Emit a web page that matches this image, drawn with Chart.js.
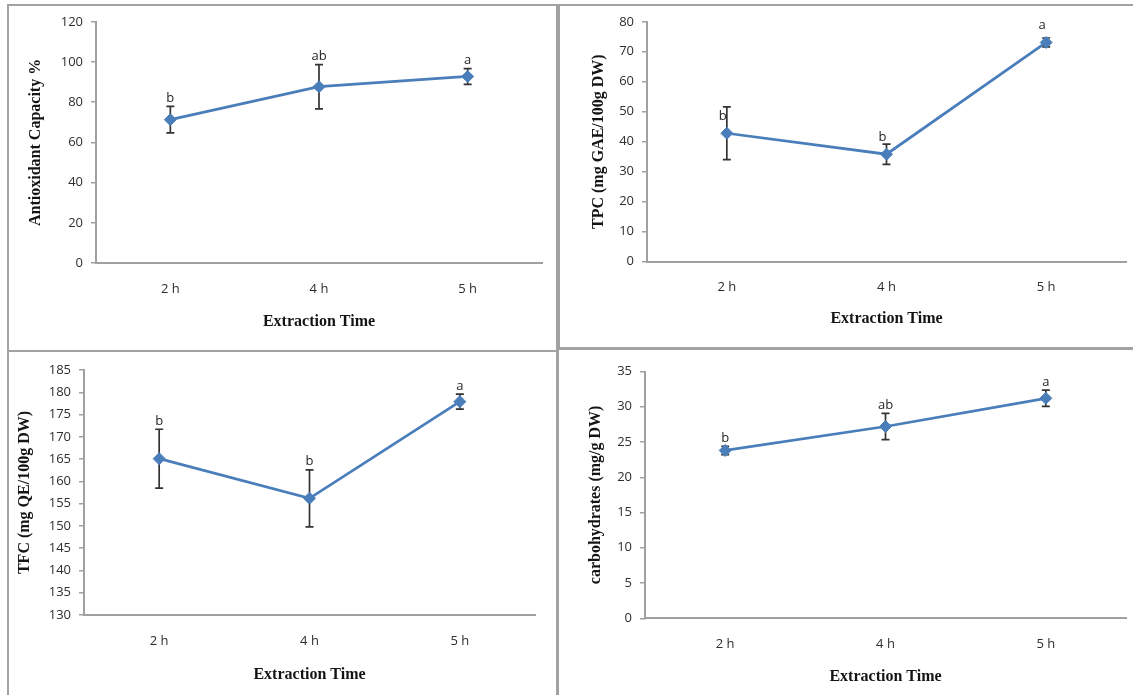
<!DOCTYPE html>
<html>
<head>
<meta charset="utf-8">
<script src="https://cdn.jsdelivr.net/npm/chart.js@4/dist/chart.umd.min.js"></script>
<style>
  html, body { margin: 0; padding: 0; background: #ffffff; }
  body { width: 1133px; height: 695px; position: relative; overflow: hidden; }
  .frame { position: absolute; border: 2px solid #a2a2a2; box-sizing: border-box; }
  canvas { position: absolute; }
</style>
</head>
<body>
<div class="frame" style="left:7px;top:4px;width:551px;height:348px;"></div>
<div class="frame" style="left:558px;top:4px;width:590px;height:345px;"></div>
<div class="frame" style="left:7px;top:350px;width:551px;height:360px;"></div>
<div class="frame" style="left:557px;top:348px;width:590px;height:360px;"></div>

<canvas id="cAntiox" width="546" height="343" style="left:9px;top:6px;"></canvas>
<canvas id="cTpc" width="573" height="341" style="left:560px;top:6px;"></canvas>
<canvas id="cTfc" width="546" height="344" style="left:9px;top:351px;"></canvas>
<canvas id="cCarb" width="574" height="346" style="left:559px;top:349px;"></canvas>

<script>
// Extraction times on the x axis
const timeLabels = ['2 h', '4 h', '5 h'];

// Antioxidant capacity (%)
const antioxMean = [71.3, 87.7, 92.8];
const antioxSd = [6.6, 11.0, 3.9];
const antioxLetters = ['b', 'ab', 'a'];

// Total phenolic content (mg GAE/100g DW)
const tpcMean = [42.8, 35.8, 73.1];
const tpcSd = [8.8, 3.4, 1.5];
const tpcLetters = ['b', 'b', 'a'];

// Total flavonoid content (mg QE/100g DW)
const tfcMean = [165.1, 156.2, 177.9];
const tfcSd = [6.6, 6.4, 1.7];
const tfcLetters = ['b', 'b', 'a'];

// Carbohydrates (mg/g DW)
const carbMean = [23.8, 27.2, 31.2];
const carbSd = [0.6, 1.85, 1.15];
const carbLetters = ['b', 'ab', 'a'];

// Y axis ranges [min, max, step]
const antioxRange = [0, 120, 20];
const tpcRange = [0, 80, 10];
const tfcRange = [130, 185, 5];
const carbRange = [0, 35, 5];

Chart.defaults.font.family = "'Open Sans', 'Liberation Sans', sans-serif";
Chart.defaults.color = '#2e2e2e';

const LINE_BLUE = '#4a7ebb';
const AXIS_GREY = '#a0a0a0';
const TICK_COLOR = '#2e2e2e';
const TITLE_FONT = { family: "'Liberation Serif', 'Times New Roman', serif", size: 16, weight: 'bold' };

// Vertical error bars with caps, drawn under the line markers
const errorBars = {
  id: 'errorBars',
  beforeDatasetsDraw(chart, args, opts) {
    const { ctx } = chart;
    const y = chart.scales.y;
    const meta = chart.getDatasetMeta(0);
    const ds = chart.data.datasets[0];
    ctx.save();
    ctx.strokeStyle = '#333333';
    ctx.lineWidth = 1.7;
    meta.data.forEach((pt, i) => {
      const m = ds.data[i], s = opts.sd[i];
      const yt = y.getPixelForValue(m + s);
      const yb = y.getPixelForValue(m - s);
      const x = pt.x;
      ctx.beginPath();
      ctx.moveTo(x, yt); ctx.lineTo(x, yb);
      ctx.moveTo(x - 4, yt); ctx.lineTo(x + 4, yt);
      ctx.moveTo(x - 4, yb); ctx.lineTo(x + 4, yb);
      ctx.stroke();
    });
    ctx.restore();
  }
};

// Significance letters above each time point
const letterLabels = {
  id: 'letterLabels',
  afterDatasetsDraw(chart, args, opts) {
    const { ctx } = chart;
    const y = chart.scales.y;
    const meta = chart.getDatasetMeta(0);
    const ds = chart.data.datasets[0];
    ctx.save();
    ctx.font = "13px 'Open Sans', sans-serif";
    ctx.fillStyle = '#262626';
    ctx.textAlign = 'center';
    ctx.textBaseline = 'middle';
    meta.data.forEach((pt, i) => {
      const m = ds.data[i];
      const ref = opts.fromPoint ? m : m + opts.sd[i];
      const py = y.getPixelForValue(ref) - opts.gap;
      ctx.fillText(opts.text[i], pt.x + opts.dx, py);
    });
    ctx.restore();
  }
};

function makePanel(id, p) {
  const canvas = document.getElementById(id);
  const boxX = parseFloat(canvas.style.left), boxY = parseFloat(canvas.style.top);
  const W = canvas.width, H = canvas.height;
  const half = TITLE_FONT.size * 1.2 / 2;
  return new Chart(canvas, {
    type: 'line',
    data: {
      labels: timeLabels,
      datasets: [{
        data: p.mean,
        borderColor: LINE_BLUE,
        backgroundColor: LINE_BLUE,
        borderWidth: 2.75,
        tension: 0,
        fill: false,
        pointStyle: 'rectRot',
        pointRadius: 6,
        pointBorderWidth: 1,
        pointBackgroundColor: LINE_BLUE,
        pointBorderColor: LINE_BLUE,
        clip: false
      }]
    },
    options: {
      responsive: false,
      animation: false,
      events: [],
      layout: {
        padding: { left: 0, top: p.area.t - boxY, right: boxX + W - p.area.r, bottom: 0 }
      },
      plugins: {
        legend: { display: false },
        tooltip: { enabled: false },
        errorBars: { sd: p.sd },
        letterLabels: { text: p.letters, sd: p.sd, fromPoint: !!p.fromPoint, gap: p.gap, dx: p.dx || 0 }
      },
      scales: {
        x: {
          type: 'category',
          offset: true,
          grid: { display: false, drawTicks: false },
          border: { display: true, color: AXIS_GREY, width: 2 },
          ticks: { padding: 18, font: { size: 13 }, color: TICK_COLOR },
          title: {
            display: true, text: 'Extraction Time', font: TITLE_FONT, color: '#141414',
            padding: { top: 0, bottom: boxY + H - p.xTitleY - half }
          },
          afterFit(s) { s.height = boxY + H - p.area.b; }
        },
        y: {
          min: p.range[0], max: p.range[1],
          grid: { display: true, drawOnChartArea: false, drawTicks: true, tickLength: 5, color: AXIS_GREY, lineWidth: 1.5 },
          border: { display: true, color: AXIS_GREY, width: 2 },
          ticks: { stepSize: p.range[2], padding: 8, font: { size: 13 }, color: TICK_COLOR },
          title: {
            display: true, text: p.yTitle, font: TITLE_FONT, color: '#141414',
            padding: { top: p.yTitleX - boxX - half, bottom: 0 }
          },
          afterFit(s) { s.width = p.area.l - boxX; }
        }
      }
    },
    plugins: [errorBars, letterLabels]
  });
}

makePanel('cAntiox', {
  mean: antioxMean, sd: antioxSd, letters: antioxLetters, range: antioxRange,
  yTitle: 'Antioxidant Capacity %',
  area: { l: 96, t: 15.5, r: 542, b: 263 }, yTitleX: 36, xTitleY: 321.5, gap: 8
});
makePanel('cTpc', {
  mean: tpcMean, sd: tpcSd, letters: tpcLetters, range: tpcRange,
  yTitle: 'TPC (mg GAE/100g DW)',
  area: { l: 647, t: 14.5, r: 1131, b: 261.5 }, yTitleX: 599, xTitleY: 319,
  fromPoint: true, gap: 17, dx: -4
});
makePanel('cTfc', {
  mean: tfcMean, sd: tfcSd, letters: tfcLetters, range: tfcRange,
  yTitle: 'TFC (mg QE/100g DW)',
  area: { l: 84, t: 370, r: 535, b: 615 }, yTitleX: 25, xTitleY: 675, gap: 8
});
makePanel('cCarb', {
  mean: carbMean, sd: carbSd, letters: carbLetters, range: carbRange,
  yTitle: 'carbohydrates (mg/g DW)',
  area: { l: 645, t: 371.5, r: 1130, b: 618.3 }, yTitleX: 595.5, xTitleY: 676.5, gap: 8
});
</script>
</body>
</html>
